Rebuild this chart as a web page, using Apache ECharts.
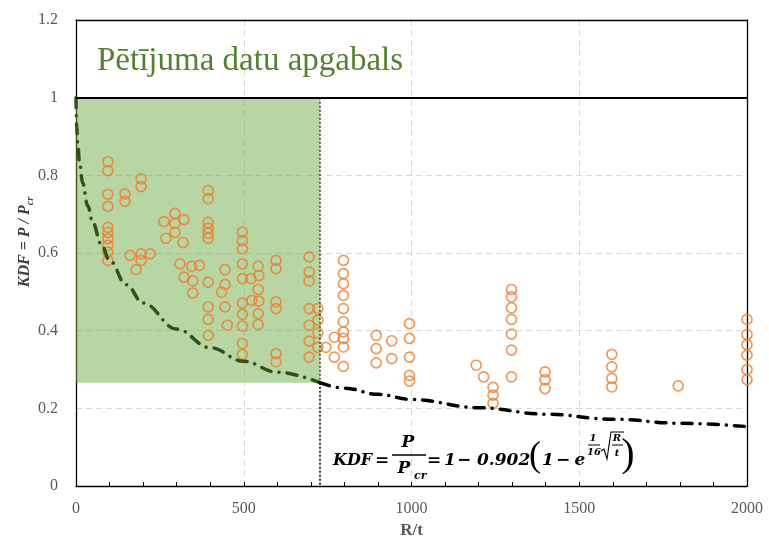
<!DOCTYPE html>
<html>
<head>
<meta charset="utf-8">
<script src="https://cdn.jsdelivr.net/npm/echarts/dist/echarts.min.js"></script>
<style>
  html, body { margin: 0; padding: 0; background: #fff; }
  #chart { width: 769px; height: 545px; }
</style>
</head>
<body>
<div id="chart"></div>
<script>
// Measured points: R/t ratio and knock-down factor KDF = P / Pcr
const pointsR = [
  95, 95, 95, 95, 95, 95, 95, 95, 95, 95,
  146, 146, 194, 194,
  161, 179, 194, 194, 221,
  262, 295, 295, 322, 295, 268, 319,
  394, 394, 394, 394, 394, 394,
  310, 345, 368, 322, 348, 348,
  394, 394, 394, 394,
  444, 444, 434, 444, 451,
  496, 496, 496, 496, 496, 496, 496, 496, 496, 496,
  521, 543, 545, 543, 524, 545, 543, 543,
  596, 596, 596, 596, 596, 596,
  695, 695, 695, 695, 695, 695, 695,
  721, 721, 721, 721,
  745, 770, 770,
  797, 797, 797, 797, 797, 797, 797, 797, 797, 797,
  895, 895, 895, 941, 941,
  994, 994, 994, 994, 994,
  1193, 1215,
  1243, 1243, 1243,
  1298, 1298, 1298, 1298, 1298, 1298, 1298,
  1398, 1398, 1398,
  1597, 1597, 1597, 1597,
  1795,
  2000, 2000, 2000, 2000, 2000, 2000
];
const pointsKDF = [
  0.835, 0.812, 0.751, 0.720, 0.666, 0.653, 0.637, 0.620, 0.602, 0.581,
  0.752, 0.733, 0.791, 0.771,
  0.594, 0.557, 0.598, 0.581, 0.598,
  0.681, 0.702, 0.676, 0.686, 0.653, 0.638, 0.627,
  0.761, 0.740, 0.679, 0.664, 0.651, 0.638,
  0.572, 0.566, 0.568, 0.538, 0.528, 0.497,
  0.525, 0.461, 0.429, 0.388,
  0.557, 0.519, 0.499, 0.461, 0.414,
  0.654, 0.632, 0.611, 0.572, 0.534, 0.471, 0.442, 0.412, 0.367, 0.339,
  0.534, 0.566, 0.542, 0.506, 0.478, 0.476, 0.444, 0.416,
  0.581, 0.560, 0.474, 0.457, 0.341, 0.320,
  0.590, 0.551, 0.528, 0.457, 0.414, 0.373, 0.332,
  0.457, 0.427, 0.394, 0.357,
  0.357, 0.383, 0.332,
  0.581, 0.547, 0.521, 0.491, 0.457, 0.423, 0.397, 0.380, 0.358, 0.308,
  0.388, 0.354, 0.317, 0.374, 0.328,
  0.418, 0.380, 0.332, 0.285, 0.270,
  0.311, 0.281,
  0.254, 0.234, 0.213,
  0.506, 0.487, 0.459, 0.429, 0.391, 0.350, 0.281,
  0.294, 0.274, 0.251,
  0.339, 0.307, 0.277, 0.255,
  0.258,
  0.429, 0.390, 0.364, 0.337, 0.300, 0.274
];

// Design curve KDF(R/t), inside the study range and beyond it
const curveInR   = [0, 2, 5, 10, 20, 35, 50, 75, 100, 150, 200, 300, 400, 500, 600, 727];
const curveInKDF = [1.000, 0.924, 0.882, 0.838, 0.780, 0.721, 0.678, 0.623, 0.581, 0.518, 0.471, 0.404, 0.356, 0.321, 0.293, 0.266];
const curveOutR   = [727, 800, 900, 1000, 1200, 1400, 1600, 1800, 2000];
const curveOutKDF = [0.266, 0.252, 0.236, 0.223, 0.2015, 0.185, 0.172, 0.1616, 0.153];

// Study data range
const studyRange = { rMax: 727, kdfMin: 0.266, kdfMax: 1.0 };

// Axis settings
const xTicks = { min: 0, max: 2000, step: 500 };
const yTicks = { min: 0, max: 1.2, step: 0.2 };

const zip = (a, b) => a.map((v, i) => [v, b[i]]);

const serif = '"Liberation Serif", "Times New Roman", serif';
const mathFont = '"DejaVu Serif", serif';
const ink = '#595959';
const dashDot = [10, 8, 0.1, 8];

const chart = echarts.init(document.getElementById('chart'), null, { renderer: 'canvas' });

function mathText(text, x, y, size, align, extra) {
  return Object.assign({
    type: 'text', x: x, y: y, z: 20,
    style: {
      text: text, fill: '#000', align: align || 'center', verticalAlign: 'middle',
      font: 'italic bold ' + size + 'px ' + mathFont
    }
  }, extra || {});
}
function bar(x1, y1, x2, y2, w) {
  return { type: 'line', z: 20, shape: { x1: x1, y1: y1, x2: x2, y2: y2 },
           style: { stroke: '#000', lineWidth: w || 1.3 } };
}

// Frame axes (top / right) carry only a line
const frameAxis = {
  type: 'value',
  axisLine: { show: true, onZero: false, lineStyle: { color: '#000', width: 1.3 } },
  axisTick: { show: false }, axisLabel: { show: false }, splitLine: { show: false }
};

const option = {
  animation: false,
  backgroundColor: '#fff',
  grid: { left: 76, right: 22, top: 20, bottom: 59 },
  xAxis: [{
    type: 'value', min: xTicks.min, max: xTicks.max, interval: xTicks.step,
    name: 'R/t', nameLocation: 'middle', nameGap: 33,
    nameTextStyle: { fontFamily: serif, fontSize: 17, fontWeight: 'bold', color: ink },
    axisLine: { lineStyle: { color: '#000', width: 1.3 } },
    axisTick: { show: true, inside: true, length: 4, lineStyle: { color: '#000' } },
    minorTick: { show: true, splitNumber: 5, length: 4, lineStyle: { color: '#000' } },
    axisLabel: { fontFamily: serif, fontSize: 16, color: ink, margin: 15, formatter: v => String(v) },
    splitLine: { show: true, lineStyle: { color: '#d9d9d9', type: [6, 4], width: 1 } }
  }, Object.assign({ position: 'top', min: xTicks.min, max: xTicks.max }, frameAxis)],
  yAxis: [{
    type: 'value', min: yTicks.min, max: yTicks.max, interval: yTicks.step,
    axisLine: { show: true, lineStyle: { color: '#000', width: 1.3 } },
    axisTick: { show: false },
    axisLabel: { fontFamily: serif, fontSize: 16, color: ink, margin: 18 },
    splitLine: { show: true, lineStyle: { color: '#d9d9d9', type: [6, 4], width: 1 } }
  }, Object.assign({ position: 'right', min: yTicks.min, max: yTicks.max }, frameAxis)],
  series: [
    {
      name: 'Mērījumi', type: 'scatter', z: 2, clip: false,
      symbol: 'circle', symbolSize: 10,
      itemStyle: { color: 'rgba(0,0,0,0)', borderColor: '#ED7D31', borderWidth: 1.7 },
      emphasis: { disabled: true },
      data: zip(pointsR, pointsKDF)
    },
    {
      name: 'Pētījuma apgabals', type: 'line', z: 3, data: [],
      markArea: {
        silent: true,
        itemStyle: { color: 'rgba(112,173,71,0.5)' },
        data: [[{ coord: [0, studyRange.kdfMin] }, { coord: [studyRange.rMax, studyRange.kdfMax] }]]
      }
    },
    {
      name: 'KDF līkne', type: 'line', z: 4, symbol: 'none', smooth: 0.4, smoothMonotone: 'x',
      lineStyle: { color: '#2f5219', width: 3.5, type: dashDot, cap: 'round' },
      data: zip(curveInR, curveInKDF),
      markLine: {
        silent: true, symbol: 'none', label: { show: false },
        lineStyle: { color: '#2f5219', width: 1.6, type: [2, 2] },
        data: [[{ coord: [studyRange.rMax, studyRange.kdfMax] }, { coord: [studyRange.rMax, studyRange.kdfMin] }]]
      }
    },
    {
      name: 'KDF līkne (ārpus)', type: 'line', z: 4, symbol: 'none', smooth: 0.4, smoothMonotone: 'x',
      lineStyle: { color: '#000', width: 3.5, type: dashDot, cap: 'round' },
      data: zip(curveOutR, curveOutKDF),
      markLine: {
        silent: true, symbol: 'none', label: { show: false },
        data: [
          [{ coord: [studyRange.rMax, studyRange.kdfMin] }, { coord: [studyRange.rMax, 0],
             lineStyle: { color: '#000', width: 1.6, type: [2, 2] } }],
          [{ coord: [xTicks.min, 1] }, { coord: [xTicks.max, 1],
             lineStyle: { color: '#000', width: 2, type: 'solid' } }]
        ]
      }
    }
  ],
  graphic: [
    {
      type: 'text', x: 97, y: 61, z: 20,
      style: { text: 'Pētījuma datu apgabals', fill: '#548235',
               font: '33px ' + serif, align: 'left', verticalAlign: 'middle' }
    },
    {
      type: 'text', x: 25, y: 242, rotation: Math.PI / 2, z: 20,
      style: {
        text: '{a|KDF = P / P}{s|cr}', align: 'center', verticalAlign: 'middle',
        rich: {
          a: { fontFamily: serif, fontStyle: 'italic', fontWeight: 'bold', fontSize: 16, fill: '#404040', color: '#404040', lineHeight: 20 },
          s: { fontFamily: serif, fontStyle: 'italic', fontWeight: 'bold', fontSize: 10, fill: '#404040', color: '#404040', lineHeight: 20, verticalAlign: 'bottom' }
        }
      }
    },
    // Formula: KDF = P / Pcr = 1 − 0.902 (1 − e^((1/16)·√(R/t)))
    mathText('KDF', 333, 461, 16, 'left'),
    mathText('=', 382, 461, 17),
    mathText('P', 408, 443, 17),
    bar(392, 455, 426, 455),
    mathText('P', 404, 469, 17),
    mathText('cr', 414, 476, 11, 'left'),
    mathText('=', 434, 461, 17),
    mathText('1', 450, 461, 17),
    mathText('−', 464, 461, 17),
    mathText('0.902', 477, 461, 17, 'left'),
    { type: 'text', x: 535, y: 457, z: 20,
      style: { text: '(', fill: '#000', align: 'center', verticalAlign: 'middle', font: '36px ' + serif } },
    mathText('1', 548, 461, 17),
    mathText('−', 563, 461, 17),
    mathText('e', 580, 461, 17),
    mathText('1', 593, 438, 10),
    bar(588, 445, 600, 445, 1),
    mathText('16', 594, 452, 10),
    { type: 'polyline', z: 20,
      shape: { points: [[601, 451], [604, 449], [607, 459], [611, 432], [624, 432]] },
      style: { stroke: '#000', lineWidth: 1.1, fill: null } },
    mathText('R', 617, 438, 10),
    bar(612, 445, 623, 445, 1),
    mathText('t', 617, 453, 10),
    { type: 'text', x: 628, y: 455, z: 20,
      style: { text: ')', fill: '#000', align: 'center', verticalAlign: 'middle', font: '40px ' + serif } }
  ]
};

chart.setOption(option);
</script>
</body>
</html>
